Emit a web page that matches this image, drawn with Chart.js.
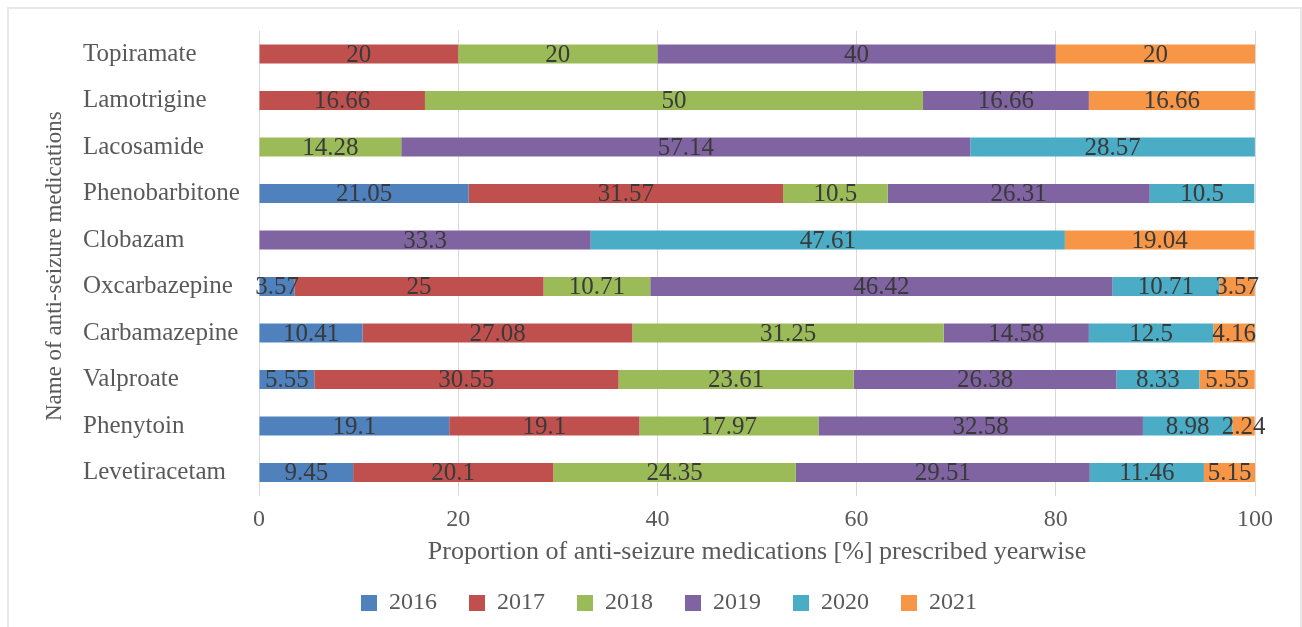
<!DOCTYPE html>
<html>
<head>
<meta charset="utf-8">
<script src="https://cdn.jsdelivr.net/npm/chart.js@4/dist/chart.umd.min.js"></script>
<style>
body { margin: 0; background: #fff; }
#frame { position: absolute; left: 7px; top: 7px; width: 1291px; height: 640px; border: 2px solid #e8e8e8; border-bottom: none; }
#myChart { position: absolute; left: 0; top: 0; }
</style>
</head>
<body>
<div id="frame"></div>
<canvas id="myChart" width="1302" height="627"></canvas>
<script>
var drugs = ['Topiramate', 'Lamotrigine', 'Lacosamide', 'Phenobarbitone', 'Clobazam',
  'Oxcarbazepine', 'Carbamazepine', 'Valproate', 'Phenytoin', 'Levetiracetam'];
var years = ['2016', '2017', '2018', '2019', '2020', '2021'];
var y2016 = [0, 0, 0, 21.05, 0, 3.57, 10.41, 5.55, 19.1, 9.45];
var y2017 = [20, 16.66, 0, 31.57, 0, 25, 27.08, 30.55, 19.1, 20.1];
var y2018 = [20, 50, 14.28, 10.5, 0, 10.71, 31.25, 23.61, 17.97, 24.35];
var y2019 = [40, 16.66, 57.14, 26.31, 33.3, 46.42, 14.58, 26.38, 32.58, 29.51];
var y2020 = [0, 0, 28.57, 10.5, 47.61, 10.71, 12.5, 8.33, 8.98, 11.46];
var y2021 = [20, 16.66, 0, 0, 19.04, 3.57, 4.16, 5.55, 2.24, 5.15];
var xTicks = [0, 20, 40, 60, 80, 100];

var serif = '"Liberation Serif", "Times New Roman", serif';
var colors = ['#4F81BD', '#C0504D', '#9BBB59', '#8064A2', '#4BACC6', '#F79646'];
var series = [y2016, y2017, y2018, y2019, y2020, y2021];

var t_sets = [];
for (var i = 0; i < years.length; ++i) {
  t_sets.push({
    label: years[i],
    data: series[i],
    backgroundColor: colors[i],
    borderWidth: 0,
    barPercentage: 0.41,
    categoryPercentage: 1
  });
}

// numbers in the middle of each piece
var barLabels = {
  id: 'barLabels',
  afterDatasetsDraw: function(chart) {
    var ctx = chart.ctx;
    ctx.save();
    ctx.font = '25px ' + serif;
    ctx.fillStyle = '#3a3a3a';
    ctx.textAlign = 'center';
    ctx.textBaseline = 'middle';
    chart.data.datasets.forEach(function(ds, i) {
      var meta = chart.getDatasetMeta(i);
      meta.data.forEach(function(bar, j) {
        var v = ds.data[j];
        if (!v) return;
        var p = bar.getProps(['x', 'y', 'base'], true);
        ctx.fillText(String(v), (p.x + p.base) / 2, p.y + 1);
      });
    });
    ctx.restore();
  }
};

// y title, drawn by hand so the names can stay left aligned
var yTitle = {
  id: 'yTitle',
  afterDraw: function(chart) {
    var ctx = chart.ctx;
    var a = chart.chartArea;
    ctx.save();
    ctx.translate(55, (a.top + a.bottom) / 2 + 3);
    ctx.rotate(-Math.PI / 2);
    ctx.font = '23px ' + serif;
    ctx.fillStyle = '#595959';
    ctx.textAlign = 'center';
    ctx.textBaseline = 'middle';
    ctx.fillText('Name of anti-seizure medications', 0, 0);
    ctx.restore();
  }
};

var ctx = document.getElementById('myChart').getContext('2d');
var chart = new Chart(ctx, {
  type: 'bar',
  data: { labels: drugs, datasets: t_sets },
  plugins: [barLabels, yTitle],
  options: {
    indexAxis: 'y',
    responsive: false,
    animation: false,
    layout: { padding: { left: 83, right: 47, top: 30.75, bottom: 2 } },
    scales: {
      x: {
        stacked: true,
        min: 0,
        max: 100,
        afterBuildTicks: function(s) { s.ticks = xTicks.map(function(v) { return { value: v }; }); },
        afterFit: function(s) { s.height = 63.25; },
        grid: { color: '#d9d9d9', lineWidth: 1, drawTicks: false },
        border: { display: false },
        ticks: { padding: 10, color: '#595959', font: { family: serif, size: 24 } },
        title: {
          display: true,
          text: 'Proportion of anti-seizure medications [%] prescribed yearwise',
          color: '#595959',
          font: { family: serif, size: 26 },
          padding: { top: 0, bottom: -8.6 }
        }
      },
      y: {
        stacked: true,
        afterFit: function(s) { s.width = 176; },
        grid: { display: false },
        border: { display: false },
        ticks: { crossAlign: 'far', autoSkip: false, color: '#595959', font: { family: serif, size: 25 } }
      }
    },
    plugins: {
      legend: {
        position: 'bottom',
        labels: { boxWidth: 16, boxHeight: 16, padding: 32, color: '#595959', font: { family: serif, size: 24 } }
      },
      tooltip: { enabled: false }
    }
  }
});
</script>
</body>
</html>
